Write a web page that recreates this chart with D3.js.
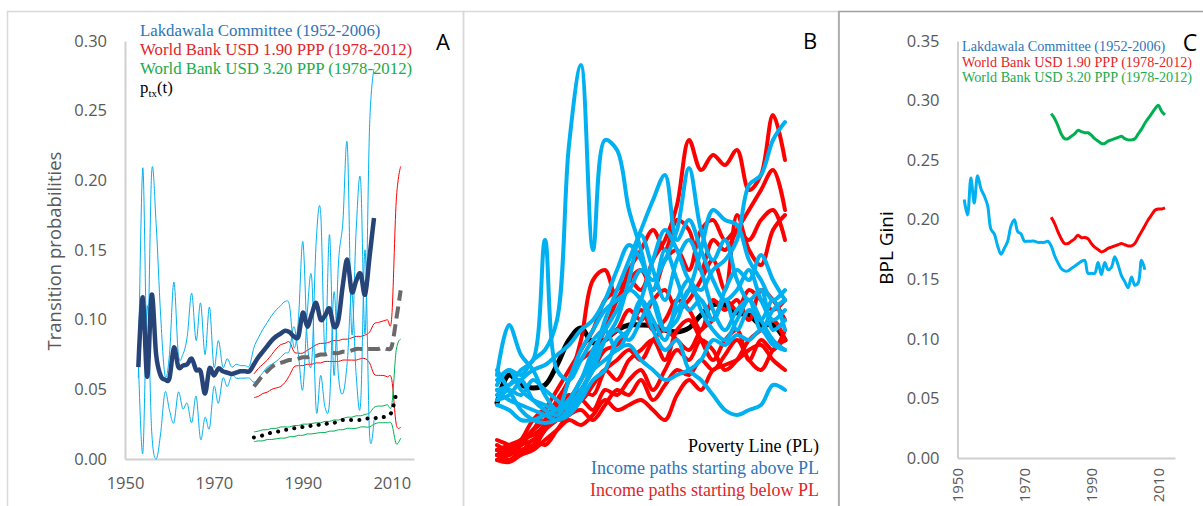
<!DOCTYPE html>
<html>
<head>
<meta charset="utf-8">
<script src="https://cdn.jsdelivr.net/npm/d3@7"></script>
<style>
  body { margin: 0; background: #fff; }
  svg { display: block; }
</style>
</head>
<body>
<svg id="canvas"></svg>
<script>
// ---------- panel A : transition probabilities ----------
const lakYears = [1953,1954,1955,1956,1957,1958,1959,1960,1961,1962,1963,1964,1965,1966,1967,1968,1969,1970,1971,1972,1973,1974,1975,1976,1977,1978,
  1979,1980,1981,1982,1983,1984,1985,1986,1987,1988,1989,1990,1991,1992,1993,1994,1995,1996,1997,1998,1999,2000,2001,2002,2003,2004,2005,2006]
const lakMean = [.066,.116,.059,.118,.075,.060,.057,.058,.080,.066,.067,.068,.072,.064,.063,.047,.065,.060,.065,.063,.062,.061,.062,.063,.063,.063,
  .068,.073,.077,.081,.085,.088,.090,.092,.091,.088,.088,.105,.095,.104,.112,.100,.103,.108,.095,.100,.125,.143,.120,.128,.133,.118,.145,.173]
const lakUpper = [.058,.209,.075,.206,.169,.104,.060,.075,.127,.075,.075,.088,.119,.085,.112,.075,.109,.066,.085,.066,.072,.066,.068,.067,.067,.067,
  .080,.087,.093,.098,.103,.107,.110,.113,.110,.080,.100,.156,.085,.070,.156,.177,.075,.161,.060,.140,.170,.226,.090,.165,.200,.090,.238,.280]
const lakLower = [.072,.004,.110,.020,.000,.018,.048,.035,.026,.048,.036,.040,.026,.045,.014,.030,.022,.052,.040,.058,.052,.060,.058,.058,.058,.058,
  .055,.058,.062,.066,.068,.070,.073,.076,.078,.095,.075,.050,.105,.130,.035,.060,.037,.041,.120,.060,.047,.070,.120,.060,.040,.150,.018,.028]

const wbYears = [1979,1980,1981,1982,1983,1984,1985,1986,1987,1988,1989,1990,1991,1992,1993,1994,1995,1996,1997,1998,1999,2000,2001,2002,2003,2004,2005,2006,2007,2008,2009,2010,2011,2012]
const wb190Mid = [.052,.056,.060,.063,.066,.068,.069,.070,.071,.071,.072,.073,.073,.074,.074,.075,.075,.076,.076,.076,.077,.077,.078,.079,.079,.079,.079,.079,.079,.080,.079,.081,.100,.121]
const wb190Hi = [.061,.065,.068,.071,.075,.079,.082,.083,.084,.077,.076,.076,.078,.080,.082,.083,.083,.084,.085,.085,.086,.086,.087,.088,.088,.089,.091,.097,.098,.099,.100,.102,.185,.210]
const wb190Lo = [.044,.045,.047,.048,.050,.051,.052,.055,.060,.066,.067,.067,.068,.068,.069,.069,.070,.070,.070,.070,.071,.071,.071,.071,.072,.072,.069,.061,.060,.060,.059,.057,.025,.023]
const wb320Hi = [.0195,.020,.021,.021,.022,.022,.023,.023,.023,.024,.024,.025,.025,.0255,.026,.026,.027,.027,.028,.028,.029,.030,.030,.031,.031,.032,.033,.037,.038,.038,.039,.039,.078,.086]
const wb320Lo = [.0124,.013,.013,.014,.014,.0145,.015,.015,.016,.016,.017,.017,.018,.018,.0185,.019,.019,.020,.020,.021,.021,.022,.022,.022,.023,.023,.023,.025,.026,.026,.026,.025,.011,.015]
const ptxYears = [1979,1980,1981,1982,1983,1984,1985,1986,1987,1988,1989,1990,1991,1992,1993,1994,1995,1996,1997,1998,1999,2000,2001,2002,2003,2004,2005,2006,2007,2008,2009,2010,2011]
const ptx = [.0155,.016,.017,.018,.019,.0195,.020,.021,.021,.022,.022,.023,.023,.024,.024,.025,.025,.026,.026,.027,.028,.028,.028,.028,.028,.029,.029,.029,.030,.030,.031,.034,.047]

const ticksA = [0, .05, .10, .15, .20, .25, .30]
const yearTicks = [1950, 1970, 1990, 2010]

// ---------- panel B : simulated income paths (arbitrary units) ----------
const povertyLine = [6.7,9.5,8.5,8.2,8.5,10.5,13,14.2,12.7,13,14,14.5,14.5,14.4,14,13.8,14.2,15.5,16.5,16.5,15.7,15.5,14.5,14.5,13]
const pathsAbove = [
  [9,10,9.5,11,12,15,32.5,40.5,22,33,32,26,22,17,14,15,18,17,15,17,14,16,15,17,14],
  [8,8.5,10,11,23,10,9,11,13,14,12,14,17,15,13,17,19,16,14,13,15,17,14,16,17],
  [9.5,14.5,11.5,10,7.5,6,6.5,8,10,13,15,19,23.5,20,17,21,23,20,16,14,16,17,15,13,12],
  [8,7,6.5,6,5.5,5,5.5,7,9,10,13,14,17,21,24,22,19,18,20,21,23,28.5,29.5,33,34.8],
  [7.5,8.5,9,7,6,5.5,7,9,12,14,16,18,17,14,12,13,10,9,7.5,6,5.5,6,6.5,8.5,8],
  [7,8,7.5,9,8,7,6,7.5,11,15,18,21,24,27,29.5,23,25,22,19,17,18,20,17,15,16],
  [8.5,10,8,7,6.5,6,9,12,14,16,17,18,20,19,21,24,30.2,24,21,23,19,17,18,14,15],
  [6.5,6,5,5,5.5,6,7,9,11,13,14,13,15,17,14,16,18,22,26,25,24.5,21,19,17,18],
  [10,8,6,5,4.7,5,6,8,10,11,12,12.5,11,10,9,9.5,10,11,13,12.5,13.5,13,14,12.5,12],
  [7,7.5,9,10,10.5,11.5,12.5,14,15,17,20,22.5,21,18,22,19,16,17,15,18,20,19,21.5,19,17]
]
const pathsBelow = [
  [2,2.5,3,4,6,8,10,12,14,17,18,19,18,21,23,26.5,33,30,31.5,30.5,32,28,29.5,35.5,31],
  [1.5,2,2.5,4,5,7,9,13,19,20,17,20,22,24,22,25,24,20,23,22,24,26,28,30,26],
  [1,1.5,2.5,4,5,6,7,9,11,13,14,16,15,17,18,16,17,19,21,18,25.5,22,20.5,24,25.5],
  [2,1.5,2.5,3,4.5,5.5,6.5,8,10,12,12.5,14,16,14,15,17,16,14,17,16,17,15,18,17,15],
  [1.5,1,2,2.5,4,6,7.5,7,8.5,10,9,11,12,13,11,14,15,13,11,13,14,11,13,12,14],
  [2.5,2,3,5,6,5,5.5,7,6,8,7.5,9,10,8,10,12,11,13,12,10,11,13,14,15,13],
  [1,0.8,1.5,2,3,4,5,4.5,5.5,7,6,6.5,7,6,5,7.5,9,8,10,10.5,11,12,12.5,11,10],
  [2,2.2,1.8,3,2.5,4,5.5,6,5,6.5,8,7.5,9,7,8.5,10,9.5,11,10,11.5,13,11,10,12,13],
  [3,2.5,2,2.2,4,5,6,8,7.5,10,11,12,11,13,14,13,12,14,15,17,16,18,17,16,17],
  [1.5,1.8,3,3.5,4.5,6.5,9,11,12,14,17,19,20,18,21,22,20,24,25,23,24,23,25,26,23]
]

// ---------- panel C : BPL Gini ----------
const cLakYears = [1952,1953,1954,1955,1956,1957,1958,1959,1960,1961,1962,1963,1964,1965,1966,1967,1968,1969,1970,1971,1972,1973,1974,1975,1976,1977,
  1978,1979,1980,1981,1982,1983,1984,1985,1986,1987,1988,1989,1990,1991,1992,1993,1994,1995,1996,1997,1998,1999,2000,2001,2002,2003,2004,2005,2006]
const giniLak = [.217,.204,.235,.214,.237,.226,.220,.212,.192,.188,.178,.171,.176,.182,.195,.200,.190,.188,.182,.182,.182,.182,.181,.181,.181,.182,
  .178,.170,.164,.159,.157,.157,.159,.161,.163,.165,.166,.155,.155,.155,.164,.154,.164,.158,.160,.169,.162,.153,.148,.143,.152,.145,.147,.166,.158]
const cWbYears = [1978,1979,1980,1981,1982,1983,1984,1985,1986,1987,1988,1989,1990,1991,1992,1993,1994,1995,1996,1997,1998,1999,2000,2001,2002,2003,2004,2005,2006,2007,2008,2009,2010,2011,2012]
const gini190 = [.202,.197,.190,.184,.180,.180,.182,.184,.187,.185,.185,.184,.180,.177,.175,.173,.174,.176,.177,.178,.179,.180,.179,.178,.178,.180,.185,.190,.195,.200,.204,.208,.209,.209,.210]
const gini320 = [.289,.285,.279,.272,.268,.268,.270,.272,.275,.274,.273,.273,.271,.268,.266,.264,.264,.266,.267,.268,.269,.270,.268,.267,.267,.268,.272,.276,.281,.285,.289,.293,.296,.291,.288]
const ticksC = [0, .05, .10, .15, .20, .25, .30, .35]

const legendLines = ["Lakdawala Committee (1952-2006)", "World Bank USD 1.90 PPP (1978-2012)", "World Bank USD 3.20 PPP (1978-2012)"]
const legendColors = ["#2e75b6", "#e0262b", "#1aab4b"]

const serif = "'Liberation Serif', serif"
const sans = "'Open Sans', sans-serif"
const lightBlue = "#00b0f0"

const svg = d3.select("#canvas").attr("width", 1203).attr("height", 506)

// panel frames
svg.append("rect").attr("x", 7.5).attr("y", 11.5).attr("width", 456).attr("height", 520)
  .attr("fill", "none").attr("stroke", "#d9d9d9").attr("stroke-width", 1.5)
svg.append("rect").attr("x", 463.5).attr("y", 11.5).attr("width", 375).attr("height", 520)
  .attr("fill", "none").attr("stroke", "#d9d9d9").attr("stroke-width", 1.5)
svg.append("rect").attr("x", 839).attr("y", 11.5).attr("width", 380).attr("height", 520)
  .attr("fill", "none").attr("stroke", "#a0a0a0").attr("stroke-width", 1.5)

function styleAxis(g) {
  g.attr("font-family", sans).attr("font-size", 16.5)
  g.select(".domain").attr("stroke", "#d0d0d0").attr("stroke-width", 2)
  g.selectAll("text").attr("fill", "#595959")
}

// ======== A ========
const xA = d3.scaleLinear().domain([1950, 2015]).range([125, 414])
const yA = d3.scaleLinear().domain([0, 0.30]).range([459, 41])

svg.append("g").attr("transform", "translate(125,0)")
  .call(d3.axisLeft(yA).tickValues(ticksA).tickFormat(d3.format(".2f")).tickSize(0).tickPadding(18))
  .call(styleAxis)
svg.append("g").attr("transform", "translate(0,459)")
  .call(d3.axisBottom(xA).tickValues(yearTicks).tickFormat(d3.format("d")).tickSize(0).tickPadding(18))
  .call(styleAxis)

svg.append("text").attr("transform", "translate(61,251) rotate(-90)")
  .attr("text-anchor", "middle").attr("font-family", sans).attr("font-size", 18.5).attr("fill", "#595959")
  .text("Transition probabilities")

const lineA = years => d3.line().x((d, i) => xA(years[i])).y(d => yA(d)).curve(d3.curveCatmullRom.alpha(0))

const gA = svg.append("g").attr("fill", "none").attr("stroke-linejoin", "round")
gA.append("path").attr("d", lineA(wbYears)(wb190Hi)).attr("stroke", "#ff0000").attr("stroke-width", 1)
gA.append("path").attr("d", lineA(wbYears)(wb190Lo)).attr("stroke", "#ff0000").attr("stroke-width", 1)
gA.append("path").attr("d", lineA(wbYears)(wb320Hi)).attr("stroke", "#00b050").attr("stroke-width", 1)
gA.append("path").attr("d", lineA(wbYears)(wb320Lo)).attr("stroke", "#00b050").attr("stroke-width", 1)
gA.append("path").attr("d", lineA(lakYears)(lakUpper)).attr("stroke", lightBlue).attr("stroke-width", 1)
gA.append("path").attr("d", lineA(lakYears)(lakLower)).attr("stroke", lightBlue).attr("stroke-width", 1)
gA.append("path").attr("d", lineA(lakYears)(lakMean)).attr("stroke", "#264478").attr("stroke-width", 4.5)
gA.append("path").attr("d", lineA(wbYears)(wb190Mid)).attr("stroke", "#6a6a6a").attr("stroke-width", 4)
  .attr("stroke-dasharray", "12,6")
gA.append("path").attr("d", lineA(ptxYears)(ptx)).attr("stroke", "#000").attr("stroke-width", 4)
  .attr("stroke-linecap", "round").attr("stroke-dasharray", "0.1,8.2")

const legA = svg.append("g").attr("font-family", serif).attr("font-size", 16.8)
legA.selectAll("text.leg").data(legendLines).enter().append("text").attr("class", "leg")
  .attr("x", 140).attr("y", (d, i) => 36 + i * 19).attr("fill", (d, i) => legendColors[i]).text(d => d)
const ptxLabel = legA.append("text").attr("x", 140).attr("y", 93).attr("fill", "#000")
ptxLabel.append("tspan").text("p")
ptxLabel.append("tspan").attr("font-size", 11).attr("dy", 4).text("tx")
ptxLabel.append("tspan").attr("dy", -4).text("(t)")

svg.append("text").attr("x", 443).attr("y", 50).attr("text-anchor", "middle")
  .attr("font-family", sans).attr("font-size", 22).text("A")

// ======== B ========
const xB = d3.scaleLinear().domain([0, povertyLine.length - 1]).range([497, 785])
const yB = d3.scaleLinear().domain([0, 42]).range([470, 50])
const lineB = d3.line().x((d, i) => xB(i)).y(d => yB(d)).curve(d3.curveCatmullRom.alpha(0.5))

const gB = svg.append("g").attr("fill", "none").attr("stroke-linejoin", "round").attr("stroke-linecap", "round")
gB.append("path").attr("d", lineB(povertyLine)).attr("stroke", "#000").attr("stroke-width", 5)
gB.selectAll("path.below").data(pathsBelow).enter().append("path").attr("class", "below")
  .attr("d", lineB).attr("stroke", "#ff0000").attr("stroke-width", 4)
gB.selectAll("path.above").data(pathsAbove).enter().append("path").attr("class", "above")
  .attr("d", lineB).attr("stroke", lightBlue).attr("stroke-width", 4)

const legB = svg.append("g").attr("font-family", serif).attr("font-size", 18).attr("text-anchor", "end")
legB.append("text").attr("x", 819).attr("y", 452).attr("fill", "#000").text("Poverty Line (PL)")
legB.append("text").attr("x", 819).attr("y", 474).attr("fill", "#2e75b6").text("Income paths starting above PL")
legB.append("text").attr("x", 819).attr("y", 496).attr("fill", "#e0262b").text("Income paths starting below PL")

svg.append("text").attr("x", 810).attr("y", 49).attr("text-anchor", "middle")
  .attr("font-family", sans).attr("font-size", 22).text("B")

// ======== C ========
const xC = d3.scaleLinear().domain([1950, 2015]).range([957.5, 1175])
const yC = d3.scaleLinear().domain([0, 0.35]).range([458, 41])

svg.append("g").attr("transform", "translate(957.5,0)")
  .call(d3.axisLeft(yC).tickValues(ticksC).tickFormat(d3.format(".2f")).tickSize(0).tickPadding(18))
  .call(styleAxis)
svg.append("g").attr("transform", "translate(0,458)")
  .call(d3.axisBottom(xC).tickValues(yearTicks).tickFormat(d3.format("d")).tickSize(0).tickSizeOuter(0))
  .call(styleAxis)
  .call(g => g.selectAll("text").attr("font-size", 15).attr("transform", "rotate(-90)").attr("text-anchor", "end")
    .attr("x", -10).attr("y", 0).attr("dy", "0.35em"))

svg.append("text").attr("transform", "translate(893,248) rotate(-90)")
  .attr("text-anchor", "middle").attr("font-family", sans).attr("font-size", 19).attr("fill", "#000")
  .text("BPL Gini")

const lineC = years => d3.line().x((d, i) => xC(years[i])).y(d => yC(d)).curve(d3.curveCatmullRom.alpha(0.5))
const gC = svg.append("g").attr("fill", "none").attr("stroke-width", 3).attr("stroke-linejoin", "round")
gC.append("path").attr("d", lineC(cLakYears)(giniLak)).attr("stroke", lightBlue)
gC.append("path").attr("d", lineC(cWbYears)(gini190)).attr("stroke", "#ff0000")
gC.append("path").attr("d", lineC(cWbYears)(gini320)).attr("stroke", "#00b050")

const legC = svg.append("g").attr("font-family", serif).attr("font-size", 14.2)
legC.selectAll("text").data(legendLines).enter().append("text")
  .attr("x", 962).attr("y", (d, i) => 51 + i * 15.5).attr("fill", (d, i) => legendColors[i]).text(d => d)

svg.append("text").attr("x", 1190).attr("y", 51).attr("text-anchor", "middle")
  .attr("font-family", sans).attr("font-size", 23).text("C")
</script>
</body>
</html>
